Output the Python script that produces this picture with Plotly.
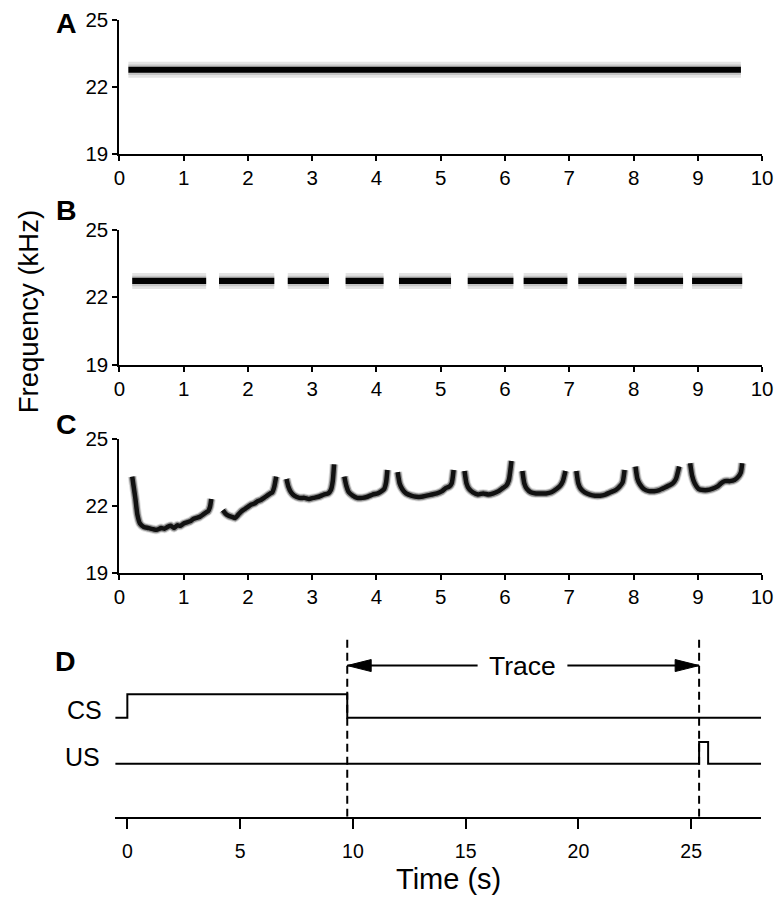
import plotly.graph_objects as go

W, H = 776, 898
FONT = "Liberation Sans, Arial, Helvetica, sans-serif"

# ---------------- data ----------------
# Panel A: one continuous tone
tone_a_start = [0.14]
tone_a_end = [9.67]
tone_a_freq = 22.75

# Panel B: ten pips
tone_b_start = [0.20, 1.55, 2.62, 3.52, 4.35, 5.42, 6.29, 7.14, 8.01, 8.91]
tone_b_end = [1.35, 2.41, 3.26, 4.11, 5.16, 6.13, 6.97, 7.89, 8.77, 9.69]
tone_b_freq = 22.72

# Panel C: vocalization contours (time s, frequency kHz)
c_t1 = [0.20, 0.22, 0.25, 0.28, 0.32, 0.38, 0.45, 0.52, 0.58, 0.65, 0.70, 0.75, 0.80, 0.85,
        0.90, 0.95, 1.00, 1.05, 1.10, 1.15, 1.20, 1.25, 1.30, 1.35, 1.38, 1.41, 1.43]
c_f1 = [23.3, 22.9, 22.3, 21.6, 21.2, 21.05, 21.0, 20.95, 20.92, 21.0, 20.97, 21.05, 21.1, 21.0,
        21.12, 21.1, 21.2, 21.25, 21.3, 21.4, 21.45, 21.5, 21.6, 21.7, 21.75, 21.95, 22.3]
c_t2 = [1.61, 1.65, 1.70, 1.75, 1.80, 1.85, 1.90, 1.95, 2.00, 2.05, 2.10, 2.15, 2.20, 2.25,
        2.30, 2.35, 2.38, 2.41, 2.44]
c_f2 = [21.8, 21.65, 21.55, 21.5, 21.45, 21.6, 21.75, 21.85, 21.95, 22.05, 22.1, 22.2, 22.25, 22.35,
        22.45, 22.55, 22.6, 22.85, 23.3]
c_t3 = [2.60, 2.63, 2.67, 2.72, 2.80, 2.88, 2.95, 3.02, 3.10, 3.18, 3.25, 3.29, 3.32, 3.34]
c_f3 = [23.2, 22.85, 22.6, 22.45, 22.35, 22.35, 22.3, 22.35, 22.4, 22.5, 22.55, 22.7, 23.1, 23.85]
c_t4 = [3.50, 3.53, 3.57, 3.63, 3.70, 3.78, 3.86, 3.94, 4.02, 4.08, 4.12, 4.15, 4.17]
c_f4 = [23.3, 22.9, 22.6, 22.45, 22.35, 22.35, 22.4, 22.5, 22.55, 22.65, 22.75, 23.05, 23.6]
c_t5 = [4.33, 4.36, 4.40, 4.46, 4.54, 4.62, 4.70, 4.78, 4.86, 4.94, 5.02, 5.08, 5.13, 5.17, 5.20]
c_f5 = [23.5, 23.0, 22.75, 22.55, 22.45, 22.4, 22.4, 22.45, 22.5, 22.55, 22.65, 22.8, 22.85, 23.0, 23.6]
c_t6 = [5.37, 5.40, 5.44, 5.50, 5.58, 5.66, 5.74, 5.82, 5.90, 5.97, 6.02, 6.06, 6.10]
c_f6 = [23.55, 23.0, 22.75, 22.6, 22.5, 22.55, 22.5, 22.55, 22.65, 22.8, 22.9, 23.15, 24.0]
c_t7 = [6.27, 6.30, 6.34, 6.40, 6.48, 6.56, 6.64, 6.72, 6.80, 6.86, 6.90, 6.94]
c_f7 = [23.55, 23.0, 22.75, 22.6, 22.55, 22.55, 22.55, 22.6, 22.75, 22.9, 23.1, 23.55]
c_t8 = [7.11, 7.14, 7.18, 7.24, 7.32, 7.40, 7.48, 7.56, 7.64, 7.72, 7.78, 7.83, 7.86]
c_f8 = [23.55, 23.0, 22.75, 22.6, 22.5, 22.45, 22.45, 22.5, 22.6, 22.7, 22.85, 23.05, 23.6]
c_t9 = [8.03, 8.06, 8.10, 8.16, 8.24, 8.32, 8.40, 8.48, 8.55, 8.61, 8.66, 8.71]
c_f9 = [23.75, 23.2, 22.95, 22.75, 22.65, 22.65, 22.7, 22.8, 22.9, 23.0, 23.2, 23.75]
c_t10 = [8.88, 8.91, 8.95, 9.01, 9.08, 9.15, 9.22, 9.30, 9.36, 9.42, 9.50, 9.57, 9.63, 9.67, 9.69]
c_f10 = [23.9, 23.35, 23.0, 22.75, 22.7, 22.7, 22.75, 22.85, 23.0, 23.1, 23.1, 23.15, 23.3, 23.5, 23.9]

freq_ticks = [19, 22, 25]
sec_ticks = [0, 1, 2, 3, 4, 5, 6, 7, 8, 9, 10]

# Panel D: trace-conditioning timeline
time_ticks = [0, 5, 10, 15, 20, 25]
t_start, t_end = -0.55, 28.1
cs_onset, cs_offset = 0.0, 9.75
us_onset, us_offset = 25.35, 25.75
cs_low, cs_high = 0.55, 0.68
us_low, us_high = 0.295, 0.415
trace_y = 0.84
trace_gap = [15.53, 19.51]
trace_label = "Trace"

# ---------------- helpers ----------------
# target picture pixels -> paper fraction (compensates the small offset/scale
# seen between the page and the photographed picture)
SX, OX = 0.98, 4.4
SY, OY = 0.974, 12.5

def dx(p):
    return ((p - OX) / SX) / W

def dy(p):
    return 1 - ((p - OY) / SY) / H

fig = go.Figure()

def seg_xy(starts, ends, f):
    xs, ys = [], []
    for s, e in zip(starts, ends):
        xs += [s, e, None]
        ys += [f, f, None]
    return xs, ys

def add_tone(xs, ys, xa, ya):
    for w, c in [(16, "#e4e4e4"), (10.5, "#c4c4c4"), (6.2, "#000000")]:
        fig.add_trace(go.Scatter(x=xs, y=ys, mode="lines", xaxis=xa, yaxis=ya,
                                 line=dict(color=c, width=w), hoverinfo="skip",
                                 showlegend=False, connectgaps=False))

xa_, ya_ = seg_xy(tone_a_start, tone_a_end, tone_a_freq)
add_tone(xa_, ya_, "x", "y")
xb_, yb_ = seg_xy(tone_b_start, tone_b_end, tone_b_freq)
add_tone(xb_, yb_, "x2", "y2")

cx, cy = [], []
for t, f in [(c_t1, c_f1), (c_t2, c_f2), (c_t3, c_f3), (c_t4, c_f4), (c_t5, c_f5),
             (c_t6, c_f6), (c_t7, c_f7), (c_t8, c_f8), (c_t9, c_f9), (c_t10, c_f10)]:
    cx += t + [None]
    cy += f + [None]
for w, c in [(9, "rgba(0,0,0,0.13)"), (7, "rgba(0,0,0,0.35)"), (4.5, "#111111")]:
    fig.add_trace(go.Scatter(x=cx, y=cy, mode="lines", xaxis="x3", yaxis="y3",
                             line=dict(color=c, width=w, shape="spline", smoothing=0.5),
                             hoverinfo="skip", showlegend=False, connectgaps=False))

# Panel D
cs_x = [t_start, cs_onset, cs_onset, cs_offset, cs_offset, t_end]
cs_y = [cs_low, cs_low, cs_high, cs_high, cs_low, cs_low]
us_x = [t_start, us_onset, us_onset, us_offset, us_offset, t_end]
us_y = [us_low, us_low, us_high, us_high, us_low, us_low]
for xs, ys in [(cs_x, cs_y), (us_x, us_y)]:
    fig.add_trace(go.Scatter(x=xs, y=ys, mode="lines", xaxis="x4", yaxis="y4",
                             line=dict(color="black", width=2), hoverinfo="skip",
                             showlegend=False))
fig.add_trace(go.Scatter(x=[cs_offset, cs_offset, None, us_onset, us_onset],
                         y=[0, 1, None, 0, 1], mode="lines", xaxis="x4", yaxis="y4",
                         line=dict(color="black", width=2, dash="8px,5px"),
                         hoverinfo="skip", showlegend=False))
# arrow shafts
fig.add_trace(go.Scatter(x=[cs_offset, trace_gap[0], None, trace_gap[1], us_onset],
                         y=[trace_y, trace_y, None, trace_y, trace_y], mode="lines",
                         xaxis="x4", yaxis="y4", line=dict(color="black", width=2),
                         hoverinfo="skip", showlegend=False))
# arrow heads (size in px converted to data units)
head_len = 24 / 22.6
head_half = 6 / 180
fig.add_trace(go.Scatter(
    x=[cs_offset, cs_offset + head_len, cs_offset + head_len, cs_offset, None,
       us_onset, us_onset - head_len, us_onset - head_len, us_onset],
    y=[trace_y, trace_y + head_half, trace_y - head_half, trace_y, None,
       trace_y, trace_y + head_half, trace_y - head_half, trace_y],
    mode="lines", fill="toself", fillcolor="black", xaxis="x4", yaxis="y4",
    line=dict(color="black", width=1), hoverinfo="skip", showlegend=False))

# ---------------- axes ----------------
tickfont = dict(family=FONT, size=20.5, color="black")
xdom = [dx(118), dx(762)]
common_ax = dict(showgrid=False, zeroline=False, showline=True, linecolor="black",
                 linewidth=2, ticks="outside", tickwidth=2, tickcolor="black",
                 ticklen=5, tickfont=tickfont)

panels = [("", 154, 20), ("2", 365, 230), ("3", 573, 439)]
layout_axes = {}
for suf, ybot, ytop in panels:
    layout_axes["xaxis" + suf] = dict(domain=xdom, range=[0, 10], tickvals=sec_ticks,
                                      anchor="y" + suf, ticklabeloverflow="allow", **common_ax)
    layout_axes["yaxis" + suf] = dict(domain=[dy(ybot), dy(ytop)], range=[19, 25],
                                      tickvals=freq_ticks, anchor="x" + suf, **common_ax)

dax = dict(common_ax)
dax.update(ticklen=10, tickfont=dict(family=FONT, size=19.5, color="black"))
layout_axes["xaxis4"] = dict(domain=[dx(114), dx(761)], range=[t_start + 0.02, t_end],
                             tickvals=time_ticks, anchor="y4", ticklabelstandoff=6, **dax)
layout_axes["yaxis4"] = dict(domain=[dy(817), dy(637)], range=[0, 1], visible=False,
                             anchor="x4")

annotations = []
for letter, (px_, py_) in zip("ABCD", [(65, 23), (65, 210), (65, 424), (64, 661)]):
    annotations.append(dict(text="<b>%s</b>" % letter, x=dx(px_), y=dy(py_), xref="paper",
                            yref="paper", showarrow=False, xanchor="center", yanchor="middle",
                            font=dict(family=FONT, size=28.5, color="black")))
annotations.append(dict(text="Frequency (kHz)", x=dx(27), y=dy(312), xref="paper", yref="paper",
                        textangle=-90, showarrow=False, xanchor="center", yanchor="middle",
                        font=dict(family=FONT, size=27.5, color="black")))
annotations.append(dict(text="Time (s)", x=dx(448), y=dy(879), xref="paper", yref="paper",
                        showarrow=False, xanchor="center", yanchor="middle",
                        font=dict(family=FONT, size=29, color="black")))
annotations.append(dict(text=trace_label, x=sum(trace_gap) / 2, y=trace_y, xref="x4", yref="y4",
                        showarrow=False, xanchor="center", yanchor="middle",
                        font=dict(family=FONT, size=26.5, color="black")))
annotations.append(dict(text="CS", x=dx(103), y=dy(710), xref="paper", yref="paper",
                        showarrow=False, xanchor="right", yanchor="middle",
                        font=dict(family=FONT, size=25, color="black")))
annotations.append(dict(text="US", x=dx(101), y=dy(757), xref="paper", yref="paper",
                        showarrow=False, xanchor="right", yanchor="middle",
                        font=dict(family=FONT, size=25, color="black")))

fig.update_layout(width=W, height=H, autosize=False,
                  margin=dict(l=0, r=0, t=0, b=0, pad=0),
                  paper_bgcolor="white", plot_bgcolor="white",
                  showlegend=False, annotations=annotations, **layout_axes)

# remove the default page margin so the figure fills the 776x898 window exactly
page_js = ("document.documentElement.style.margin='0';document.documentElement.style.padding='0';"
           "document.documentElement.style.overflow='hidden';"
           "document.body.style.margin='0';document.body.style.padding='0';"
           "document.body.style.overflow='hidden';")
fig.write_html("out.html", post_script=page_js, config={"displayModeBar": False})
